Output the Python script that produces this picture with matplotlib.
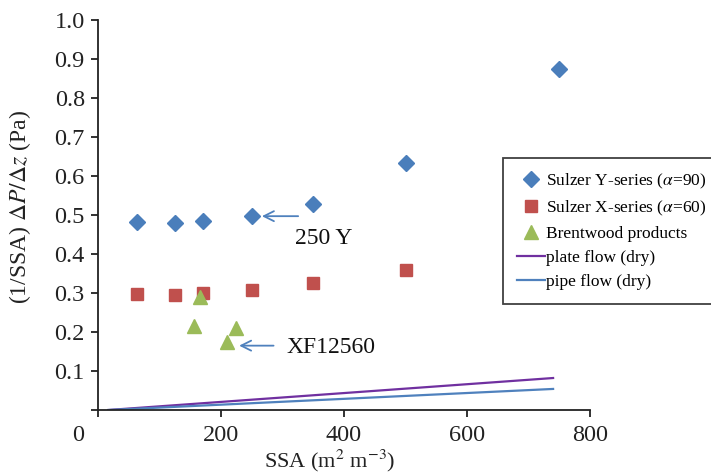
import matplotlib
matplotlib.use("Agg")
import matplotlib.pyplot as plt
import matplotlib.transforms as mtransforms

plt.rcParams['font.family'] = ['Liberation Serif', 'DejaVu Serif']
plt.rcParams['mathtext.fontset'] = 'stix'

# Data
y_series_x = [64, 125, 170, 250, 350, 500, 750]
y_series_y = [0.482, 0.479, 0.484, 0.498, 0.529, 0.633, 0.874]
x_series_x = [64, 125, 170, 250, 350, 500]
x_series_y = [0.297, 0.296, 0.299, 0.308, 0.326, 0.359]
brent_x = [156, 166, 209, 225]
brent_y = [0.215, 0.290, 0.175, 0.210]
flow_x = [17, 740]
plate_y = [0.0, 0.082]
pipe_y = [0.0, 0.054]
x_ticks = [0, 200, 400, 600, 800]
y_ticks = [0, 0.1, 0.2, 0.3, 0.4, 0.5, 0.6, 0.7, 0.8, 0.9, 1.0]
y_tick_labels = ['', '0.1', '0.2', '0.3', '0.4', '0.5', '0.6', '0.7', '0.8', '0.9', '1.0']

fig = plt.figure(figsize=(7.11, 4.75), dpi=100)
ax = fig.add_axes([98/711, 1-410/475, (590-98)/711, (410-20)/475])

blue = '#4a7ebb'
red = '#c0504d'
green = '#9bbb59'
purple = '#7030a0'
lblue = '#4f81bd'

ax.plot(y_series_x, y_series_y, 'D', color=blue, ms=8, mec=blue, ls='none',
        label=r'Sulzer Y-series ($\alpha$=90)', zorder=3)
ax.plot(x_series_x, x_series_y, 's', color=red, ms=9, mec=red, ls='none',
        label=r'Sulzer X-series ($\alpha$=60)', zorder=3)
ax.plot(brent_x, brent_y, '^', color=green, ms=9.5, mec=green, ls='none',
        label='Brentwood products', zorder=3)
ax.plot(flow_x, plate_y, '-', color=purple, lw=1.6, label='plate flow (dry)')
ax.plot(flow_x, pipe_y, '-', color=lblue, lw=1.6, label='pipe flow (dry)')

ax.set_xlim(0, 800)
ax.set_ylim(0, 1.0)
ax.set_xticks(x_ticks)
ax.set_yticks(y_ticks)
ax.set_yticklabels(y_tick_labels)
for s in ['top', 'right']:
    ax.spines[s].set_visible(False)
for s in ['left', 'bottom']:
    ax.spines[s].set_linewidth(1.3)
    ax.spines[s].set_color('#222222')
ax.tick_params(axis='both', direction='out', length=5, width=1.3,
               labelsize=17.5, colors='#222222')
ax.tick_params(axis='x', pad=5.5)
ax.tick_params(axis='y', pad=4.5)

# shift the "0" x tick label left like in the reference
fig.canvas.draw()
lbl0 = ax.get_xticklabels()[0]
lbl0.set_transform(lbl0.get_transform() + mtransforms.ScaledTranslation(-20/100, 0, fig.dpi_scale_trans))

ax.set_xlabel(r'SSA (m$^2$ m$^{-3}$)', fontsize=16, color='#222222')
ax.xaxis.set_label_coords(0.47, -0.097)
ax.set_ylabel(r'(1/SSA) $\Delta P/\Delta z$ (Pa)', fontsize=17, color='#222222')
ax.yaxis.set_label_coords(-0.132, 0.52)

ax.annotate('', xy=(262, 0.497), xytext=(330, 0.497),
            arrowprops=dict(arrowstyle='->', color=lblue, lw=1.3,
                            mutation_scale=18))
ax.text(320, 0.44, '250 Y', fontsize=17, ha='left', va='center', color='#111111')
ax.annotate('', xy=(225, 0.165), xytext=(290, 0.165),
            arrowprops=dict(arrowstyle='->', color=lblue, lw=1.3,
                            mutation_scale=18))
ax.text(306, 0.16, 'XF12560', fontsize=17, ha='left', va='center', color='#111111')

leg = fig.legend(loc='upper left', bbox_to_anchor=(503/711, 1-158/475),
                 fontsize=12.5, frameon=True, fancybox=False, edgecolor='#111111',
                 handlelength=1.6, handletextpad=0.1, labelspacing=0.45,
                 borderpad=0.8, borderaxespad=0)
leg.get_frame().set_linewidth(1.3)

fig.savefig('out.png', dpi=100)
